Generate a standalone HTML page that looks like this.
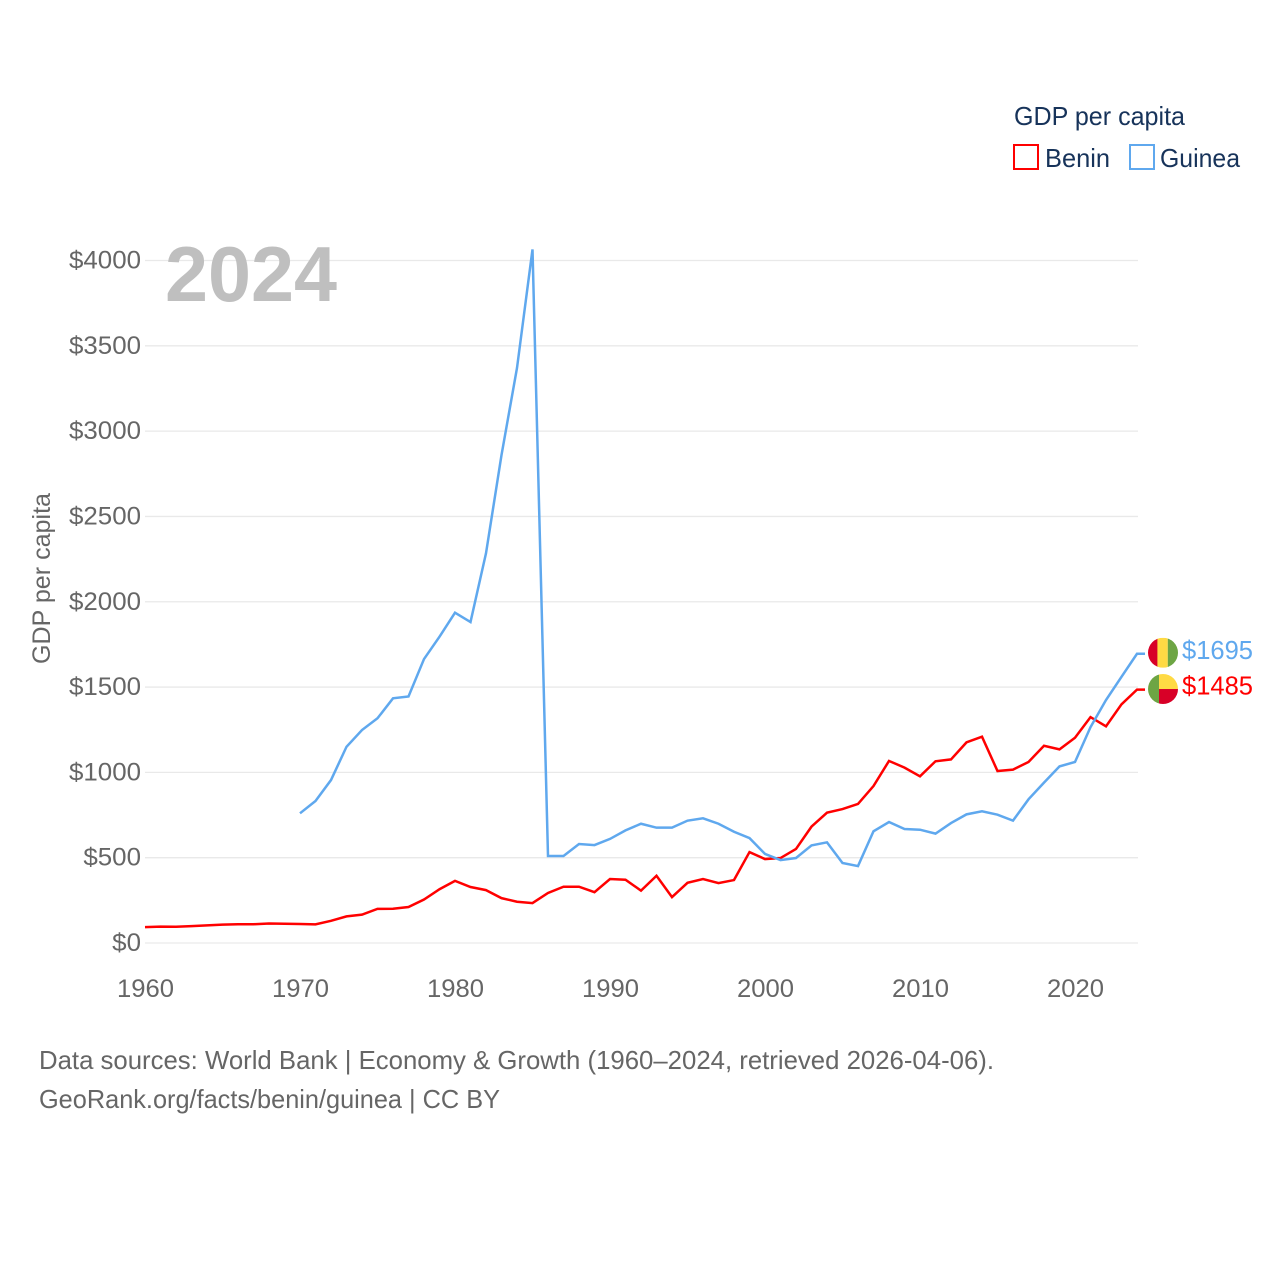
<!DOCTYPE html>
<html>
<head>
<meta charset="utf-8">
<title>GDP per capita: Benin and Guinea</title>
<style>
html,body{margin:0;padding:0;background:#fff;}
svg{display:block;font-family:"Liberation Sans",sans-serif;}
</style>
</head>
<body>
<svg id="chart" width="1280" height="1280" viewBox="0 0 1280 1280" xmlns="http://www.w3.org/2000/svg">
  <rect width="1280" height="1280" fill="#fff"/>
  <g id="grid"></g>
  <text x="165" y="301" font-size="78" font-weight="bold" fill="#bfbfbf" textLength="172" lengthAdjust="spacingAndGlyphs">2024</text>
  <g id="y-ticks"></g>
  <g id="x-ticks"></g>
  <text transform="translate(50,664) rotate(-90)" font-size="25" fill="#666" textLength="171" lengthAdjust="spacingAndGlyphs">GDP per capita</text>
  <g id="series"></g>
  <g id="markers"></g>

  <g>
    <text x="1014" y="125" font-size="26" fill="#17335a" textLength="171" lengthAdjust="spacingAndGlyphs">GDP per capita</text>
    <rect x="1014" y="145" width="24" height="24" fill="none" stroke="#ff0000" stroke-width="2"/>
    <text x="1045" y="167" font-size="26" fill="#17335a" textLength="65" lengthAdjust="spacingAndGlyphs">Benin</text>
    <rect x="1130" y="145" width="24" height="24" fill="none" stroke="#5fa8ee" stroke-width="2"/>
    <text x="1160" y="167" font-size="26" fill="#17335a" textLength="80" lengthAdjust="spacingAndGlyphs">Guinea</text>
  </g>

  <g>
    <text x="39" y="1069" font-size="26" fill="#666" textLength="955" lengthAdjust="spacingAndGlyphs">Data sources: World Bank | Economy &amp; Growth (1960–2024, retrieved 2026-04-06).</text>
    <text x="39" y="1108" font-size="26" fill="#666" textLength="461" lengthAdjust="spacingAndGlyphs">GeoRank.org/facts/benin/guinea | CC BY</text>
  </g>
</svg>

<script>
const startYear = 1960;
const endYear = 2024;
const xTickLabels = [1960, 1970, 1980, 1990, 2000, 2010, 2020];
const yTickValues = [0, 500, 1000, 1500, 2000, 2500, 3000, 3500, 4000];
const beninValues = [
  93, 96, 95, 99, 103, 108, 110, 110, 114, 113,
  111, 109, 130, 156, 166, 200, 201, 211, 255, 315,
  364, 328, 310, 263, 242, 234, 293, 330, 330, 298,
  375, 371, 307, 394, 269, 353, 375, 351, 369, 533,
  492, 498, 551, 682, 764, 785, 815, 920, 1067, 1028,
  977, 1065, 1076, 1176, 1209, 1008, 1016, 1061, 1156, 1135,
  1203, 1324, 1270, 1399, 1485
];
const guineaValues = [
  null, null, null, null, null, null, null, null, null, null,
  760, 832, 955, 1150, 1248, 1317, 1434, 1445, 1664, 1795,
  1936, 1881, 2284, 2860, 3370, 4065, 510, 510, 580, 574,
  610, 660, 699, 676, 676, 717, 731, 699, 652, 615,
  522, 486, 498, 572, 590, 469, 451, 655, 709, 668,
  664, 641, 703, 754, 772, 752, 717, 842, 940, 1035,
  1061, 1265, 1424, 1560, 1695
];

const NS = 'http://www.w3.org/2000/svg';
const xScale = function (year) { return 145 + (year - startYear) * (1137 - 145) / (endYear - startYear); };
const yScale = function (value) { return 943 - value * (943 - 260.5) / 4000; };

function make(tag, attrs, parent, text) {
  const el = document.createElementNS(NS, tag);
  Object.keys(attrs).forEach(function (k) { el.setAttribute(k, attrs[k]); });
  if (text !== undefined) el.textContent = text;
  parent.appendChild(el);
  return el;
}

const gridGroup = document.getElementById('grid');
const yTickGroup = document.getElementById('y-ticks');
const xTickGroup = document.getElementById('x-ticks');
const seriesGroup = document.getElementById('series');
const markerGroup = document.getElementById('markers');

yTickValues.forEach(function (v) {
  const line = make('line', { x1: 145, x2: 1138, y1: yScale(v), y2: yScale(v), stroke: '#e9e9e9', 'stroke-width': 1.3 }, gridGroup);
  
  
  const label = '$' + v;
  const tick = make('text', {
    x: 141, y: yScale(v) + 8, 'font-size': 25, fill: '#666', 'text-anchor': 'end',
    textLength: 14.4 * label.length, lengthAdjust: 'spacingAndGlyphs'
  }, yTickGroup, label);
  
  
});

xTickLabels.forEach(function (year) {
  const tick = make('text', {
    x: xScale(year) + 0.5, y: 997, 'font-size': 25, fill: '#666', 'text-anchor': 'middle',
    textLength: 57, lengthAdjust: 'spacingAndGlyphs'
  }, xTickGroup, String(year));
  
  
});

function linePoints(values) {
  const pts = [];
  let last = null;
  values.forEach(function (v, i) {
    if (v === null) return;
    pts.push(xScale(startYear + i).toFixed(2) + ',' + yScale(v).toFixed(2));
    last = v;
  });
  pts.push((xScale(endYear) + 8).toFixed(2) + ',' + yScale(last).toFixed(2));
  return pts.join(' ');
}

const beninLine = make('polyline', { points: linePoints(beninValues), fill: 'none', stroke: '#ff0000', 'stroke-width': 2.5, 'stroke-linejoin': 'miter' }, seriesGroup);



const guineaLine = make('polyline', { points: linePoints(guineaValues), fill: 'none', stroke: '#5fa8ee', 'stroke-width': 2.5, 'stroke-linejoin': 'miter' }, seriesGroup);



const defs = make('defs', {}, markerGroup);
const clip = make('clipPath', { id: 'flag-clip' }, defs);
make('circle', { cx: 0, cy: 0, r: 15 }, clip);

const guineaEnd = guineaValues[guineaValues.length - 1];
const beninEnd = beninValues[beninValues.length - 1];

const guineaFlag = make('g', { transform: 'translate(1163,' + (yScale(guineaEnd) - 1).toFixed(2) + ')', 'clip-path': 'url(#flag-clip)' }, markerGroup);


make('rect', { x: -15, y: -15, width: 9.6, height: 30, fill: '#d80027' }, guineaFlag);
make('rect', { x: -5.6, y: -15, width: 10.4, height: 30, fill: '#ffda44' }, guineaFlag);
make('rect', { x: 4.8, y: -15, width: 10.2, height: 30, fill: '#6da544' }, guineaFlag);

const beninFlag = make('g', { transform: 'translate(1163,' + (yScale(beninEnd) - 0.6).toFixed(2) + ')', 'clip-path': 'url(#flag-clip)' }, markerGroup);


make('rect', { x: -15, y: -15, width: 11, height: 30, fill: '#6da544' }, beninFlag);
make('rect', { x: -4, y: -15, width: 19, height: 15, fill: '#ffda44' }, beninFlag);
make('rect', { x: -4, y: 0, width: 19, height: 15, fill: '#d80027' }, beninFlag);

const guineaValueLabel = make('text', {
  x: 1182, y: yScale(guineaEnd) + 5, 'font-size': 26, fill: '#5fa8ee',
  textLength: 71, lengthAdjust: 'spacingAndGlyphs'
}, markerGroup, '$' + guineaEnd);



const beninValueLabel = make('text', {
  x: 1182, y: yScale(beninEnd) + 5, 'font-size': 26, fill: '#ff0000',
  textLength: 71, lengthAdjust: 'spacingAndGlyphs'
}, markerGroup, '$' + beninEnd);


</script>
</body>
</html>
